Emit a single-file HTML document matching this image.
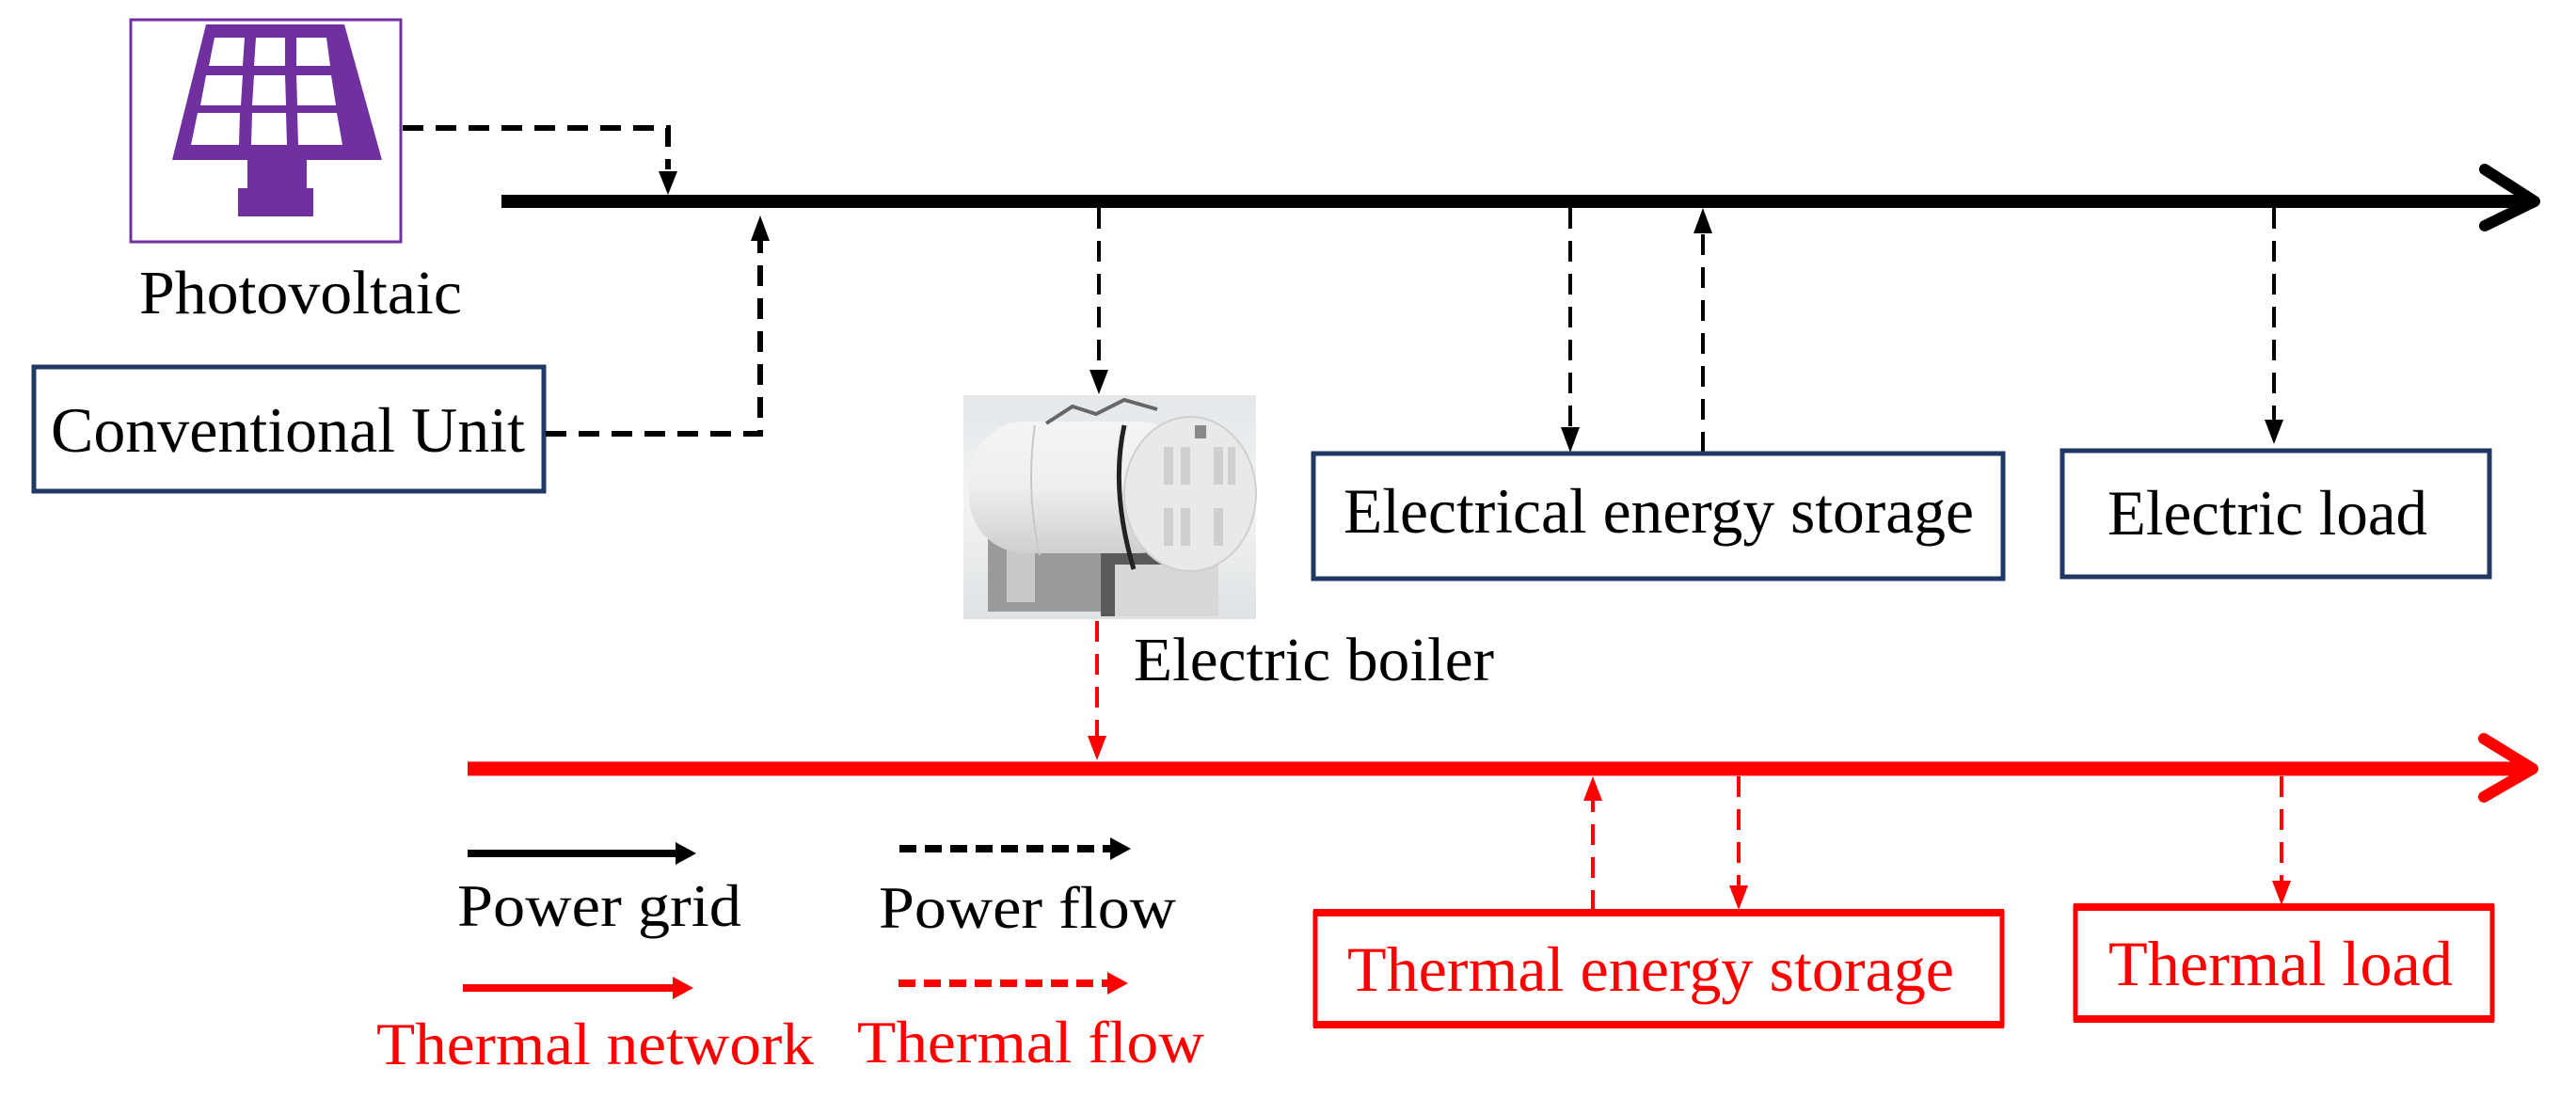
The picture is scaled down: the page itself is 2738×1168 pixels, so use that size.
<!DOCTYPE html>
<html><head><meta charset="utf-8"><style>
html,body{margin:0;padding:0;background:#fff;}
svg{display:block;}
text{font-family:"Liberation Serif",serif;}
</style></head><body>
<svg width="2738" height="1168" viewBox="0 0 2738 1168" xmlns="http://www.w3.org/2000/svg">
<defs>
<linearGradient id="bg" x1="0" y1="0" x2="0" y2="1"><stop offset="0" stop-color="#e4e8ea"/><stop offset="0.5" stop-color="#f2f3f4"/><stop offset="1" stop-color="#dfe2e4"/></linearGradient>
<linearGradient id="cyl" x1="0" y1="0" x2="0" y2="1"><stop offset="0" stop-color="#f4f4f4"/><stop offset="0.5" stop-color="#eeeeee"/><stop offset="1" stop-color="#cfcfcf"/></linearGradient>
</defs>

<!-- PV -->
<rect x="139" y="21" width="287" height="236" fill="#fff" stroke="#7030a0" stroke-width="3"/>
<g fill="#7030a0">
<polygon points="219,26 366,26 406,170 183,170"/>
<rect x="263" y="170" width="63" height="32"/>
<rect x="253" y="200" width="80" height="30"/>
</g>
<g fill="#fff">
<polygon points="228,40 260,40 258,70 222,70"/><polygon points="272,40 303,40 303,70 270,70"/><polygon points="315,40 347,40 351,70 315,70"/>
<polygon points="219,80 258,80 256,112 213,112"/><polygon points="270,80 303,80 304,112 268,112"/><polygon points="315,80 352,80 357,112 316,112"/>
<polygon points="210,120 255,120 254,154 203,154"/><polygon points="268,120 304,120 305,154 267,154"/><polygon points="316,120 358,120 364,154 317,154"/>
</g>
<text x="148" y="333" font-size="66" textLength="343" lengthAdjust="spacingAndGlyphs">Photovoltaic</text>

<!-- Power bus -->
<line x1="533" y1="214" x2="2692" y2="214" stroke="#000" stroke-width="14"/>
<polyline points="2641,180 2694,214 2641,240" fill="none" stroke="#000" stroke-width="12" stroke-linecap="round" stroke-linejoin="round"/>

<!-- PV dashed -->
<g stroke="#000" stroke-width="6" fill="none" stroke-dasharray="22,13">
<polyline points="428,136 710,136 710,180"/>
</g>
<polygon points="700,182 720,182 710,207" fill="#000"/>

<!-- CU -->
<rect x="36" y="390" width="542" height="132" fill="#fff" stroke="#1f3864" stroke-width="5"/>
<text x="54" y="480" font-size="68" textLength="504" lengthAdjust="spacingAndGlyphs">Conventional Unit</text>
<polyline points="580,461 808,461 808,255" fill="none" stroke="#000" stroke-width="6" stroke-dasharray="22,13"/>
<polygon points="798,256 818,256 808,229" fill="#000"/>

<!-- to boiler -->
<line x1="1168" y1="221" x2="1168" y2="393" stroke="#000" stroke-width="4" stroke-dasharray="22,13"/>
<polygon points="1158,393 1178,393 1168,419" fill="#000"/>

<!-- boiler image -->
<rect x="1024" y="420" width="311" height="238" fill="url(#bg)"/>
<rect x="1050" y="560" width="130" height="90" fill="#9a9a9a"/>
<rect x="1070" y="560" width="30" height="80" fill="#c9c9c9"/>
<rect x="1170" y="580" width="80" height="75" fill="#5a5a5a"/>
<rect x="1185" y="600" width="110" height="55" fill="#d8d8d8"/>
<rect x="1030" y="448" width="240" height="140" rx="60" fill="url(#cyl)"/>
<ellipse cx="1265" cy="525" rx="70" ry="82" fill="#e9e9e9" stroke="#cfcfcf" stroke-width="2"/>
<path d="M1195,452 Q1180,520 1205,605" stroke="#222" stroke-width="5" fill="none"/>
<path d="M1100,452 Q1090,520 1105,590" stroke="#c8c8c8" stroke-width="2" fill="none"/>
<rect x="1270" y="452" width="12" height="14" fill="#888"/>
<path d="M1112,450 L1140,432 L1165,440 L1195,425 L1230,435" stroke="#666" stroke-width="4" fill="none"/>
<g fill="#cfcfcf"><rect x="1237" y="475" width="10" height="40"/><rect x="1255" y="475" width="10" height="40"/><rect x="1290" y="475" width="10" height="40"/><rect x="1305" y="475" width="8" height="40"/><rect x="1237" y="540" width="10" height="40"/><rect x="1255" y="540" width="10" height="40"/><rect x="1290" y="540" width="10" height="40"/></g>

<text x="1205" y="723" font-size="66" textLength="383" lengthAdjust="spacingAndGlyphs">Electric boiler</text>

<!-- EES -->
<line x1="1669" y1="221" x2="1669" y2="455" stroke="#000" stroke-width="4" stroke-dasharray="22,13"/>
<polygon points="1659,454 1679,454 1669,481" fill="#000"/>
<line x1="1810" y1="481" x2="1810" y2="246" stroke="#000" stroke-width="4" stroke-dasharray="22,13"/>
<polygon points="1800,248 1820,248 1810,221" fill="#000"/>
<rect x="1396" y="482" width="733" height="133" fill="#fff" stroke="#1f3864" stroke-width="5"/>
<text x="1428" y="566" font-size="68" textLength="670" lengthAdjust="spacingAndGlyphs">Electrical energy storage</text>

<!-- EL -->
<line x1="2417" y1="221" x2="2417" y2="446" stroke="#000" stroke-width="4" stroke-dasharray="22,13"/>
<polygon points="2407,446 2427,446 2417,472" fill="#000"/>
<rect x="2192" y="479" width="454" height="134" fill="#fff" stroke="#1f3864" stroke-width="5"/>
<text x="2240" y="568" font-size="68" textLength="340" lengthAdjust="spacingAndGlyphs">Electric load</text>

<!-- boiler to thermal -->
<line x1="1166" y1="660" x2="1166" y2="782" stroke="#ff0000" stroke-width="4" stroke-dasharray="22,13"/>
<polygon points="1156,782 1176,782 1166,808" fill="#ff0000"/>

<!-- Thermal bus -->
<line x1="497" y1="817" x2="2688" y2="817" stroke="#ff0000" stroke-width="15"/>
<polyline points="2640,785 2692,817 2640,847" fill="none" stroke="#ff0000" stroke-width="12" stroke-linecap="round" stroke-linejoin="round"/>

<!-- TES -->
<line x1="1693" y1="968" x2="1693" y2="850" stroke="#ff0000" stroke-width="4" stroke-dasharray="22,13"/>
<polygon points="1683,851 1703,851 1693,825" fill="#ff0000"/>
<line x1="1848" y1="825" x2="1848" y2="942" stroke="#ff0000" stroke-width="4" stroke-dasharray="22,13"/>
<polygon points="1838,941 1858,941 1848,967" fill="#ff0000"/>
<rect x="1398" y="970" width="730" height="119" fill="#fff" stroke="#ff0000" stroke-width="5"/>
<line x1="1396" y1="970" x2="2130" y2="970" stroke="#ff0000" stroke-width="8"/>
<line x1="1396" y1="1089" x2="2130" y2="1089" stroke="#ff0000" stroke-width="8"/>
<text x="1432" y="1053" font-size="68" fill="#ff0000" textLength="645" lengthAdjust="spacingAndGlyphs">Thermal energy storage</text>

<!-- TL -->
<line x1="2425" y1="825" x2="2425" y2="937" stroke="#ff0000" stroke-width="4" stroke-dasharray="22,13"/>
<polygon points="2415,936 2435,936 2425,962" fill="#ff0000"/>
<rect x="2206" y="964" width="443" height="119" fill="#fff" stroke="#ff0000" stroke-width="5"/>
<line x1="2204" y1="964" x2="2651" y2="964" stroke="#ff0000" stroke-width="8"/>
<line x1="2204" y1="1083" x2="2651" y2="1083" stroke="#ff0000" stroke-width="8"/>
<text x="2241" y="1047" font-size="68" fill="#ff0000" textLength="366" lengthAdjust="spacingAndGlyphs">Thermal load</text>

<!-- Legend -->
<line x1="497" y1="907" x2="720" y2="907" stroke="#000" stroke-width="8"/>
<polygon points="718,895 740,907 718,919" fill="#000"/>
<text x="486" y="984" font-size="64" textLength="302" lengthAdjust="spacingAndGlyphs">Power grid</text>
<line x1="956" y1="902" x2="1182" y2="902" stroke="#000" stroke-width="8" stroke-dasharray="18,9"/>
<polygon points="1180,890 1202,902 1180,914" fill="#000"/>
<text x="934" y="986" font-size="64" textLength="316" lengthAdjust="spacingAndGlyphs">Power flow</text>

<line x1="492" y1="1050" x2="717" y2="1050" stroke="#ff0000" stroke-width="8"/>
<polygon points="715,1038 737,1050 715,1062" fill="#ff0000"/>
<text x="400" y="1131" font-size="64" fill="#ff0000" textLength="465" lengthAdjust="spacingAndGlyphs">Thermal network</text>
<line x1="955" y1="1045" x2="1180" y2="1045" stroke="#ff0000" stroke-width="8" stroke-dasharray="18,9"/>
<polygon points="1177,1033 1199,1045 1177,1057" fill="#ff0000"/>
<text x="911" y="1129" font-size="64" fill="#ff0000" textLength="369" lengthAdjust="spacingAndGlyphs">Thermal flow</text>
</svg>
</body></html>
